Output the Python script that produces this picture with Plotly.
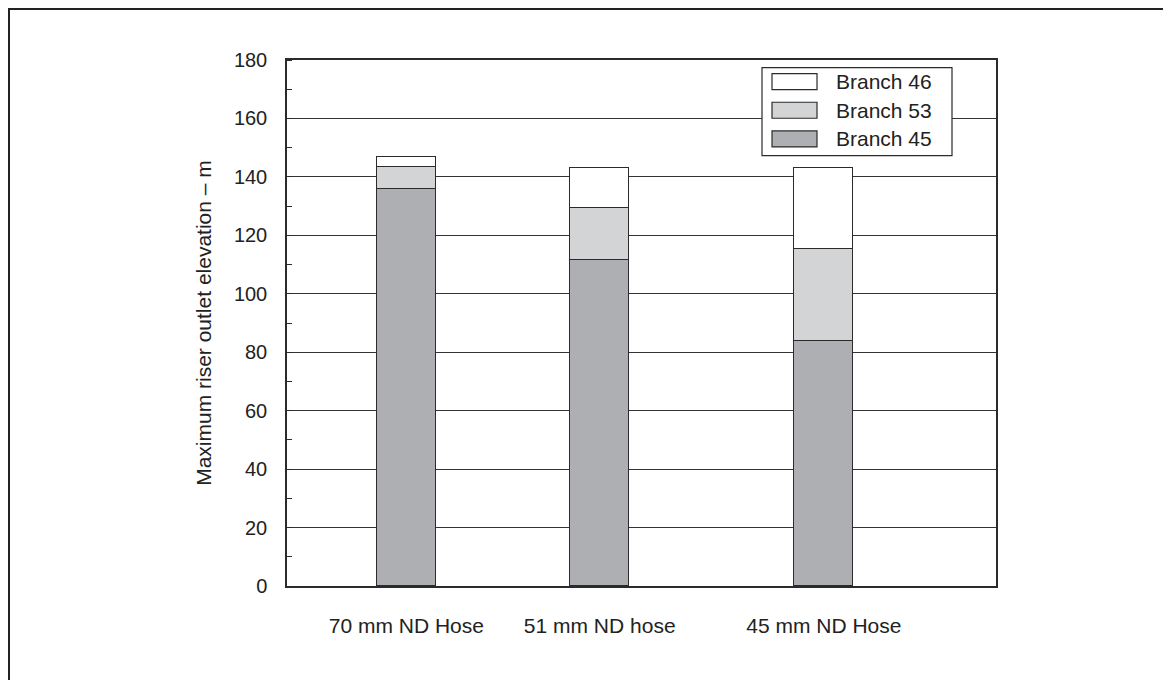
import plotly.graph_objects as go

# ---- data ----
categories = ["70 mm ND Hose", "51 mm ND hose", "45 mm ND Hose"]
branch45 = [135.8, 111.6, 83.9]
branch53 = [7.6, 17.7, 31.5]
branch46 = [3.4, 13.9, 27.8]
series_names = ["Branch 45", "Branch 53", "Branch 46"]
y_ticks = [0, 20, 40, 60, 80, 100, 120, 140, 160, 180]

# ---- layout constants (positions / styles) ----
x_pos = [1.193, 3.127, 5.368]
bar_width = 0.59
colors = {"Branch 45": "#aeafb2", "Branch 53": "#d3d4d6", "Branch 46": "#ffffff"}
edge = "#2b2b2b"
font_family = "Liberation Sans, Arial, sans-serif"
txt = "#222222"

series_values = {"Branch 45": branch45, "Branch 53": branch53, "Branch 46": branch46}

fig = go.Figure()
for name in series_names:
    fig.add_trace(go.Bar(
        x=x_pos, y=series_values[name], width=bar_width, name=name,
        marker=dict(color=colors[name], line=dict(color=edge, width=1.5)),
        showlegend=False,
    ))

# page offset of the plot div (browser body margin)
OFF = 8
FW, FH = 1171 - OFF, 680 - OFF
# plot area in page pixels: x 287..996, y 60..586.5
L, R, T, B = 287 - OFF, 996 - OFF, 60 - OFF, 586.5 - OFF
W, H = R - L, B - T
def px(x):
    return (x - OFF - L) / W
def py(y):
    return (B - (y - OFF)) / H

shapes = []
annotations = []
# outer frame (left & top edges visible)
shapes.append(dict(type="rect", xref="paper", yref="paper",
                   x0=px(9), x1=px(1400), y0=py(900), y1=py(9),
                   line=dict(color="#222222", width=2), fillcolor="rgba(0,0,0,0)",
                   layer="below"))
# custom legend box
shapes.append(dict(type="rect", xref="paper", yref="paper",
                   x0=px(762), x1=px(952), y0=py(155.7), y1=py(67.7),
                   line=dict(color=edge, width=1.2), fillcolor="#ffffff", layer="above"))
legend_order = ["Branch 46", "Branch 53", "Branch 45"]
row_y = [81.7, 110.3, 139.0]
for name, ry in zip(legend_order, row_y):
    shapes.append(dict(type="rect", xref="paper", yref="paper",
                       x0=px(772), x1=px(817), y0=py(ry + 8), y1=py(ry - 8),
                       line=dict(color=edge, width=1.2), fillcolor=colors[name], layer="above"))
    annotations.append(dict(xref="paper", yref="paper", x=px(834), y=py(ry),
                            text=name, showarrow=False, xanchor="left", yanchor="middle",
                            font=dict(family=font_family, size=21, color=txt)))

fig.update_layout(
    barmode="stack",
    width=FW, height=FH,
    margin=dict(l=L, r=FW - R, t=T, b=FH - B, pad=0),
    paper_bgcolor="white", plot_bgcolor="white",
    font=dict(family=font_family, size=21, color=txt),
    shapes=shapes, annotations=annotations,
    bargap=0,
)
fig.update_xaxes(
    range=[0, W / 100.0], tickvals=x_pos, ticktext=categories,
    showgrid=False, zeroline=False, showline=True, linecolor=edge, linewidth=1.5,
    mirror=True, ticks="", ticklabelstandoff=20,
    tickfont=dict(family=font_family, size=21, color=txt),
)
fig.update_yaxes(
    range=[0, 180], tickvals=y_ticks, showgrid=True, gridcolor="#333333", gridwidth=1,
    zeroline=False, showline=True, linecolor=edge, linewidth=1.5, mirror=True,
    ticks="", ticklabelstandoff=14,
    minor=dict(ticks="inside", ticklen=5, tickcolor=edge, dtick=10, tick0=0, showgrid=False),
    tickfont=dict(family=font_family, size=20, color=txt),
    title=dict(text="Maximum riser outlet elevation – m", standoff=17,
               font=dict(family=font_family, size=21, color=txt)),
)

fig.write_html("out.html")
